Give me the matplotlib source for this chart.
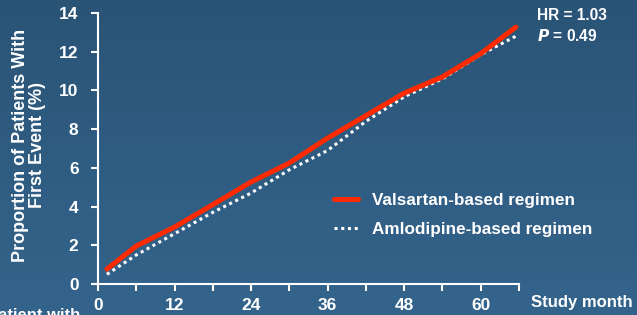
import numpy as np
import matplotlib.pyplot as plt

# Kaplan-Meier style cumulative event curves
months = [1.4, 6, 12, 18, 24, 30, 36, 42, 48, 54, 60, 65.5]
valsartan = [0.77, 1.96, 2.94, 4.1, 5.27, 6.25, 7.54, 8.7, 9.86, 10.7, 11.9, 13.27]
amlodipine = [0.5, 1.5, 2.6, 3.7, 4.7, 5.9, 6.9, 8.4, 9.67, 10.6, 11.85, 12.8]

x_ticks = list(range(0, 67, 6))
x_labels = ["0", "", "12", "", "24", "", "36", "", "48", "", "60", ""]
y_ticks = list(range(0, 15, 2))

plt.rcParams["font.family"] = ["Liberation Sans", "DejaVu Sans"]
plt.rcParams["font.weight"] = "bold"

fig = plt.figure(figsize=(6.37, 3.15), dpi=100)

# background gradient
bg = fig.add_axes([0, 0, 1, 1])
grad = np.linspace(0, 1, 256).reshape(-1, 1)
top = np.array([0x2a, 0x54, 0x76]) / 255
bot = np.array([0x34, 0x64, 0x8c]) / 255
img = top + (bot - top) * grad[:, :, None]
bg.imshow(img, aspect="auto", extent=[0, 1, 0, 1])
bg.set_axis_off()

ax = fig.add_axes([98 / 637, 1 - 284 / 315, 421 / 637, 271 / 315])
ax.patch.set_alpha(0)

ax.plot(months, amlodipine, color="white", lw=2.2, ls=(0, (1, 1.2)),
        solid_capstyle="butt", label="Amlodipine-based regimen")
ax.plot(months, valsartan, color="#ff2a00", lw=3.6, solid_capstyle="round",
        label="Valsartan-based regimen")

ax.set_xlim(0, 66)
ax.set_ylim(0, 14)
ax.set_xticks(x_ticks)
ax.set_xticklabels(x_labels)
ax.set_yticks(y_ticks)
for s in ["top", "right"]:
    ax.spines[s].set_visible(False)
for s in ["left", "bottom"]:
    ax.spines[s].set_color("white")
    ax.spines[s].set_linewidth(1.5)
ax.tick_params(colors="white", width=1.5, length=5, labelsize=12.5, pad=5)
ax.tick_params(axis="y", pad=9)

ax.set_ylabel("Proportion of Patients With\nFirst Event (%)", color="white",
              fontsize=13, fontweight="bold", linespacing=1.0)
ax.yaxis.set_label_coords(-52 / 421, 0.513)

h, l = ax.get_legend_handles_labels()
leg = fig.legend(h[::-1], l[::-1], loc="center left",
                 bbox_to_anchor=(334 / 637, 1 - 215 / 315),
                 frameon=False, fontsize=12.3, labelcolor="white",
                 borderpad=0, borderaxespad=0,
                 handlelength=1.4, handletextpad=0.8, labelspacing=0.8)

fig.text(537 / 637, 1 - 16 / 315, "HR = 1.03", color="white", fontsize=11.2,
         fontweight="bold", va="center")
fig.text(537 / 637, 1 - 36 / 315, r"$\bf\it{P}$ = 0.49", color="white", fontsize=11.2,
         fontweight="bold", va="center")
fig.text(531 / 637, 1 - 303 / 315, "Study month", color="white", fontsize=12,
         fontweight="bold", va="center")
fig.text(-0.02, 1 - 308 / 315, "Patient with", color="white", fontsize=12,
         fontweight="bold", va="top")

fig.savefig("out.png", dpi=100)
